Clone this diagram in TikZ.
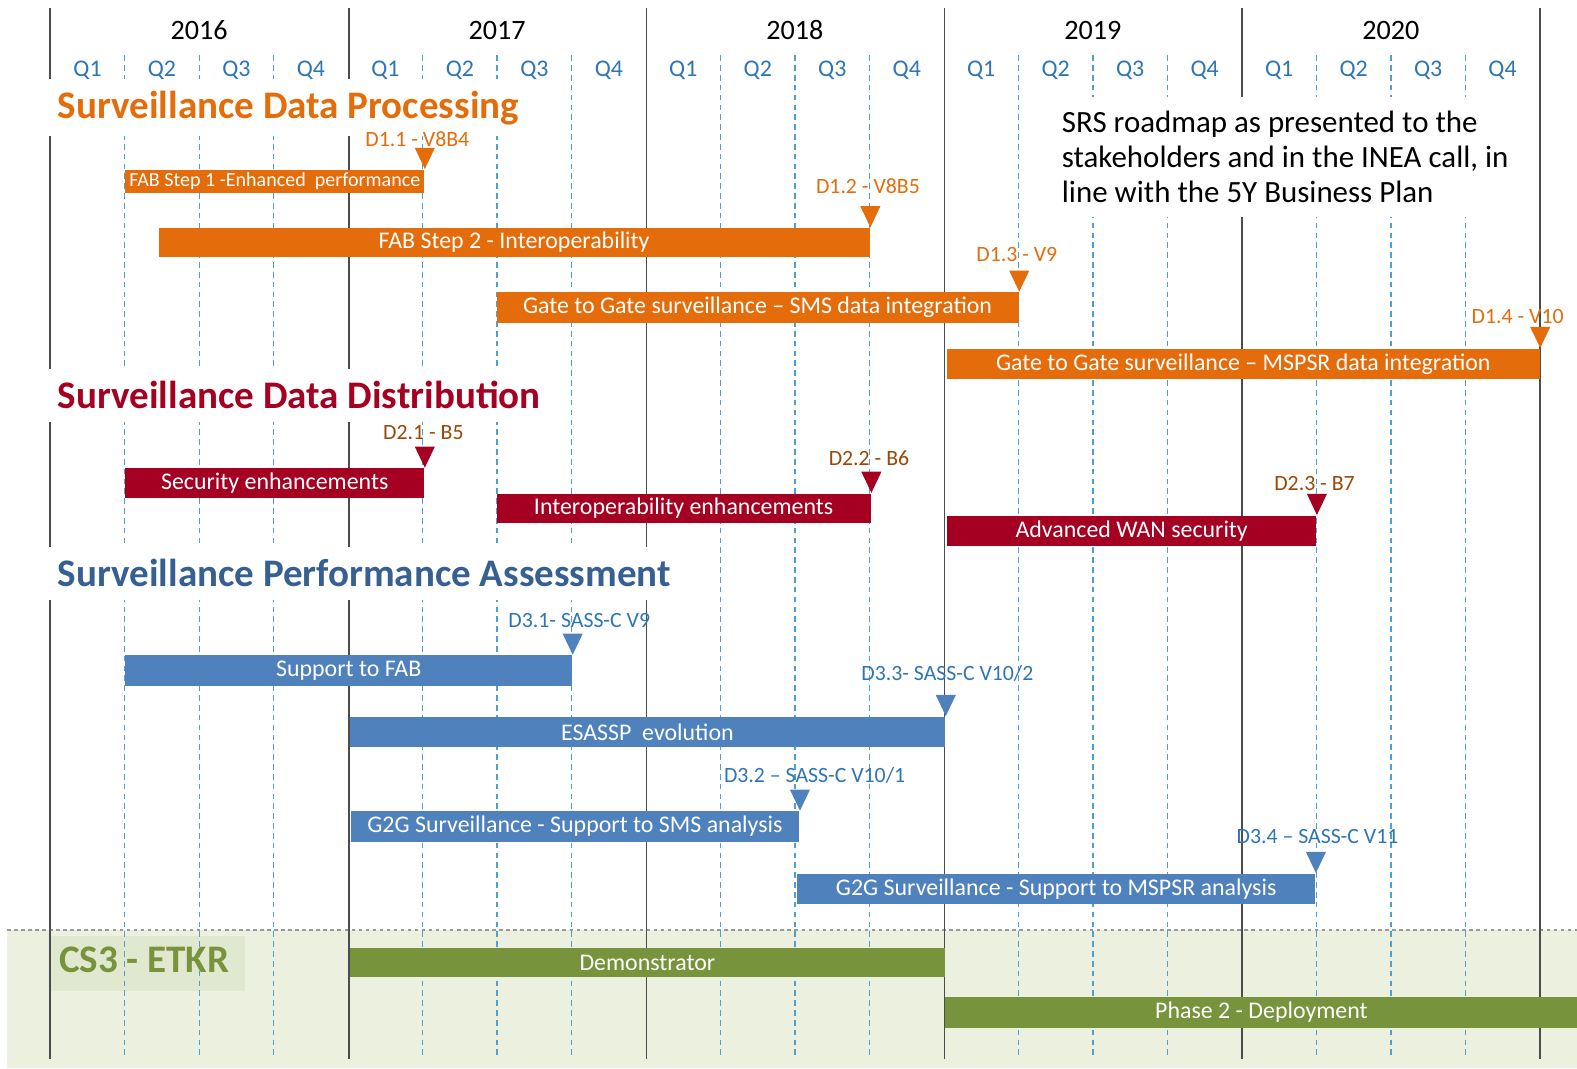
\documentclass[tikz,border=0pt]{standalone}
\usepackage{fontspec}
\setmainfont{Carlito}
\usepackage{xcolor}
\usepackage{tikz}

\definecolor{sdpOrange}{HTML}{E46C0A}
\definecolor{sddRed}{HTML}{A50021}
\definecolor{sddBrown}{HTML}{984807}
\definecolor{spaBlue}{HTML}{4F81BD}
\definecolor{spaTitle}{HTML}{376092}
\definecolor{spaLabel}{HTML}{2E75B6}
\definecolor{csGreen}{HTML}{77933C}
\definecolor{csBack}{HTML}{EBF1DE}
\definecolor{csBox}{HTML}{E0E9D0}
\definecolor{gridBlue}{HTML}{4F9FD0}

\begin{document}
\begin{tikzpicture}[
  x=0.010057cm, y=-0.010057cm,
  yearline/.style={draw=black!70, line width=0.45pt},
  qline/.style={draw=gridBlue, line width=0.4pt, dash pattern=on 1.6pt off 1.2pt},
  yearlab/.style={font=\fontsize{8}{9}\selectfont},
  qlab/.style={font=\fontsize{6.8}{8}\selectfont, text=spaLabel},
  heading/.style={fill=white, anchor=west, inner xsep=3.4pt, minimum height=0.53cm,
                  font=\fontsize{11.1}{13}\selectfont\bfseries},
  srs/.style={fill=white, anchor=west, align=left, inner xsep=2.9pt, inner ysep=4pt,
              font=\fontsize{8.8}{10}\selectfont},
  bar/.style={anchor=north west, inner sep=0pt, text=white, font=\fontsize{6.8}{8}\selectfont},
  barsize/.style 2 args={minimum width={#1*0.010057cm}, minimum height={#2*0.010057cm}},
  mlab/.style={inner sep=0pt, font=\fontsize{6.2}{7}\selectfont},
  band/.style={draw=black!40, line width=0.6pt, dash pattern=on 1pt off 1pt}
]
  \useasboundingbox (0,0) rectangle (1568,1062);

  % CS3 area
  \fill[csBack] (7,925) rectangle (1568,1062);
  \draw[band] (7,925) -- (1568,925);
  \node[fill=csBox, anchor=north west, inner sep=0pt, barsize={193}{55}] (csbox) at (50,930) {};

  % time grid
  \foreach \x in {50,347,643,939,1235,1531}
    \draw[yearline] (\x,8) -- (\x,1053);
  \foreach \i in {0,...,4}
    \foreach \q in {1,2,3}
      \draw[qline] ({50+296.2*\i+74.05*\q},55) -- ++(0,998);
  \foreach \yr [count=\i from 0] in {2016,...,2020} {
    \node[yearlab] (y\yr) at ({198+296.2*\i},30) {\yr};
    \foreach \q in {1,...,4}
      \node[qlab] (q\yr\q) at ({50+296.2*\i+74.05*(\q-0.5)},70) {Q\q};
  }

  % headings
  \node[heading, text=sdpOrange] (sdp) at (45,107) {Surveillance Data Processing};
  \node[heading, text=sddRed] (sdd) at (45,393) {Surveillance Data Distribution};
  \node[heading, text=spaTitle] (spa) at (45,570) {Surveillance Performance Assessment};
  \node[anchor=west, inner sep=0pt, text=csGreen, font=\fontsize{11.1}{13}\selectfont\bfseries]
    (cs3) at (58,954) {CS3 - ETKR};
  \node[srs] (note) at (1045,156) {SRS roadmap as presented to the\\
    stakeholders and in the INEA call, in\\line with the 5Y Business Plan};

  % data processing
  \node[bar, fill=sdpOrange, barsize={297}{23}, font=\fontsize{5.7}{7}\selectfont]
    (fab1) at (124,168) {FAB Step 1 -Enhanced\ \ performance};
  \node[bar, fill=sdpOrange, barsize={707}{29}] (fab2) at (157,226) {FAB Step 2 - Interoperability};
  \node[bar, fill=sdpOrange, barsize={519}{30}] (smsint) at (493,290) {Gate to Gate surveillance -- SMS data integration};
  \node[bar, fill=sdpOrange, barsize={589}{30}] (mspsrint) at (941,346) {Gate to Gate surveillance -- MSPSR data integration};
  \fill[sdpOrange] (fab1.north east) -- ++(-10,-21) -- ++(20,0) -- cycle;
  \fill[sdpOrange] (fab2.north east) -- ++(-10,-21) -- ++(20,0) -- cycle;
  \fill[sdpOrange] (smsint.north east) -- ++(-10,-21) -- ++(20,0) -- cycle;
  \fill[sdpOrange] (mspsrint.north east) -- ++(-10,-21) -- ++(20,0) -- cycle;
  \node[mlab, text=sdpOrange] (d11) at (415,138) {D1.1 - V8B4};
  \node[mlab, text=sdpOrange] (d12) at (863,185) {D1.2 - V8B5};
  \node[mlab, text=sdpOrange] (d13) at (1011,253) {D1.3 - V9};
  \node[mlab, text=sdpOrange] (d14) at (1509,315) {D1.4 - V10};

  % data distribution
  \node[bar, fill=sddRed, barsize={297}{29}] (secenh) at (124,465) {Security enhancements};
  \node[bar, fill=sddRed, barsize={372}{29}] (interenh) at (493,490) {Interoperability enhancements};
  \node[bar, fill=sddRed, barsize={367}{30}] (wansec) at (941,512) {Advanced WAN security};
  \fill[sddRed] (secenh.north east) -- ++(-10,-21) -- ++(20,0) -- cycle;
  \fill[sddRed] (interenh.north east) -- ++(-10,-21) -- ++(20,0) -- cycle;
  \fill[sddRed] (wansec.north east) -- ++(-10,-21) -- ++(20,0) -- cycle;
  \node[mlab, text=sddBrown] (d21) at (421,430) {D2.1 - B5};
  \node[mlab, text=sddBrown] (d22) at (864,456) {D2.2 - B6};
  \node[mlab, text=sddBrown] (d23) at (1307,481) {D2.3 - B7};

  % performance assessment
  \node[bar, fill=spaBlue, barsize={444}{30}] (supfab) at (124,651) {Support to FAB};
  \node[bar, fill=spaBlue, barsize={592}{30}] (esassp) at (347,712) {ESASSP\ \ evolution};
  \node[bar, fill=spaBlue, barsize={446}{30}] (smsana) at (348,806) {G2G Surveillance - Support to SMS analysis};
  \node[bar, fill=spaBlue, barsize={515}{30}] (mspsrana) at (792,868) {G2G Surveillance - Support to MSPSR analysis};
  \fill[spaBlue] (supfab.north east) -- ++(-10,-21) -- ++(20,0) -- cycle;
  \fill[spaBlue] (esassp.north east) -- ++(-10,-21) -- ++(20,0) -- cycle;
  \fill[spaBlue] (smsana.north east) -- ++(-10,-21) -- ++(20,0) -- cycle;
  \fill[spaBlue] (mspsrana.north east) -- ++(-10,-21) -- ++(20,0) -- cycle;
  \node[mlab, text=spaLabel] (d31) at (576,617) {D3.1- SASS-C V9};
  \node[mlab, text=spaLabel] (d33) at (942,670) {D3.3- SASS-C V10/2};
  \node[mlab, text=spaLabel] (d32) at (810,771) {D3.2 -- SASS-C V10/1};
  \node[mlab, text=spaLabel] (d34) at (1310,832) {D3.4 -- SASS-C V11};

  % CS3
  \node[bar, fill=csGreen, barsize={592}{29}] (demo) at (347,942) {Demonstrator};
  \node[bar, fill=csGreen, barsize={629}{30}] (deploy) at (939,991) {Phase 2 - Deployment};
\end{tikzpicture}
\end{document}
